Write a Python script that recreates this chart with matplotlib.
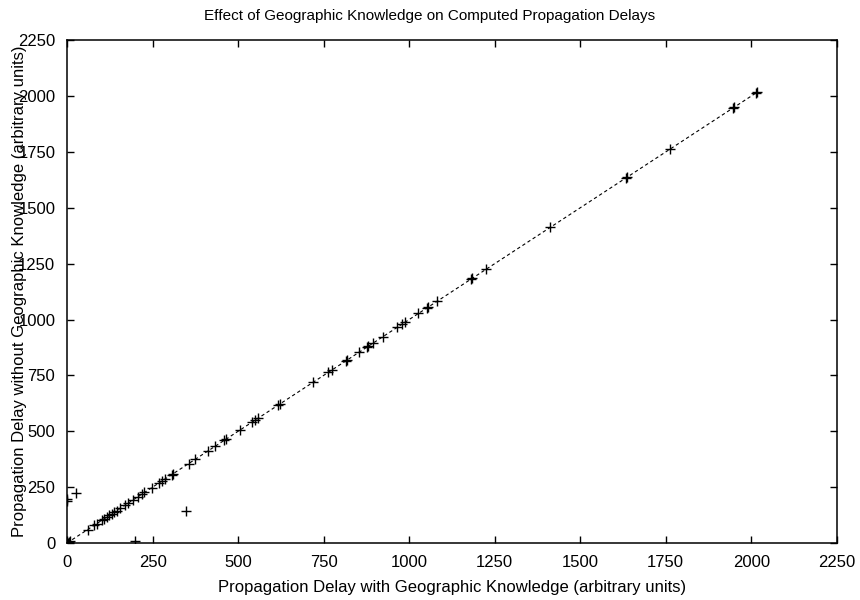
import matplotlib
matplotlib.use("Agg")
import matplotlib.pyplot as plt

# delays (arbitrary units)
with_geo = [0, 2, 5, 8, 0, 0, 25, 199, 347,
            60, 80, 87, 101, 109, 116, 124, 131, 138, 145, 155, 170, 179,
            194, 206, 220, 226, 247, 269, 278, 286, 306, 311, 355, 374,
            413, 432, 459, 465, 505, 540, 549, 559, 618, 622, 720, 764,
            773, 815, 819, 854, 876, 881, 895, 924, 965, 978, 988, 1027,
            1051, 1056, 1082, 1181, 1185, 1225, 1413, 1633, 1637, 1762,
            1947, 1951, 2013, 2017]
without_geo = [0, 2, 5, 8, 186, 198, 222, 10, 143,
               60, 80, 87, 101, 109, 116, 124, 131, 138, 145, 155, 170, 179,
               194, 206, 220, 226, 247, 269, 278, 286, 306, 311, 355, 374,
               413, 432, 459, 465, 505, 540, 549, 559, 618, 622, 720, 764,
               773, 815, 819, 854, 876, 881, 895, 924, 965, 978, 988, 1027,
               1051, 1056, 1082, 1181, 1185, 1225, 1413, 1633, 1637, 1762,
               1947, 1951, 2013, 2017]
ticks = [0, 250, 500, 750, 1000, 1250, 1500, 1750, 2000, 2250]

plt.rcParams["font.family"] = ["Liberation Sans", "DejaVu Sans"]

fig = plt.figure(figsize=(8.6, 6.0), dpi=100)
ax = fig.add_axes([0.078, 0.095, 0.895, 0.838])

# reference line y = x through the data range
lo, hi = min(with_geo), max(with_geo)
ax.plot([lo, hi], [lo, hi], color="black", linewidth=0.8,
        linestyle=(0, (3, 2.5)))
ax.plot(with_geo, without_geo, linestyle="none", marker="+",
        markersize=7, markeredgewidth=1.0, color="black")

ax.set_xlim(0, 2250)
ax.set_ylim(0, 2250)
ax.set_xticks(ticks)
ax.set_yticks(ticks)
ax.tick_params(direction="in", length=5, width=1, labelsize=12,
               top=True, right=True, pad=8.5)
for s in ax.spines.values():
    s.set_linewidth(1.1)

ax.set_xlabel("Propagation Delay with Geographic Knowledge (arbitrary units)",
              fontsize=12, labelpad=7.5)
ax.set_ylabel("Propagation Delay without Geographic Knowledge (arbitrary units)",
              fontsize=12)
ax.yaxis.set_label_coords(-0.052, 0.5)
fig.suptitle("Effect of Geographic Knowledge on Computed Propagation Delays",
             fontsize=11, y=0.985)

fig.savefig("out.png", dpi=100)
plt.close(fig)
